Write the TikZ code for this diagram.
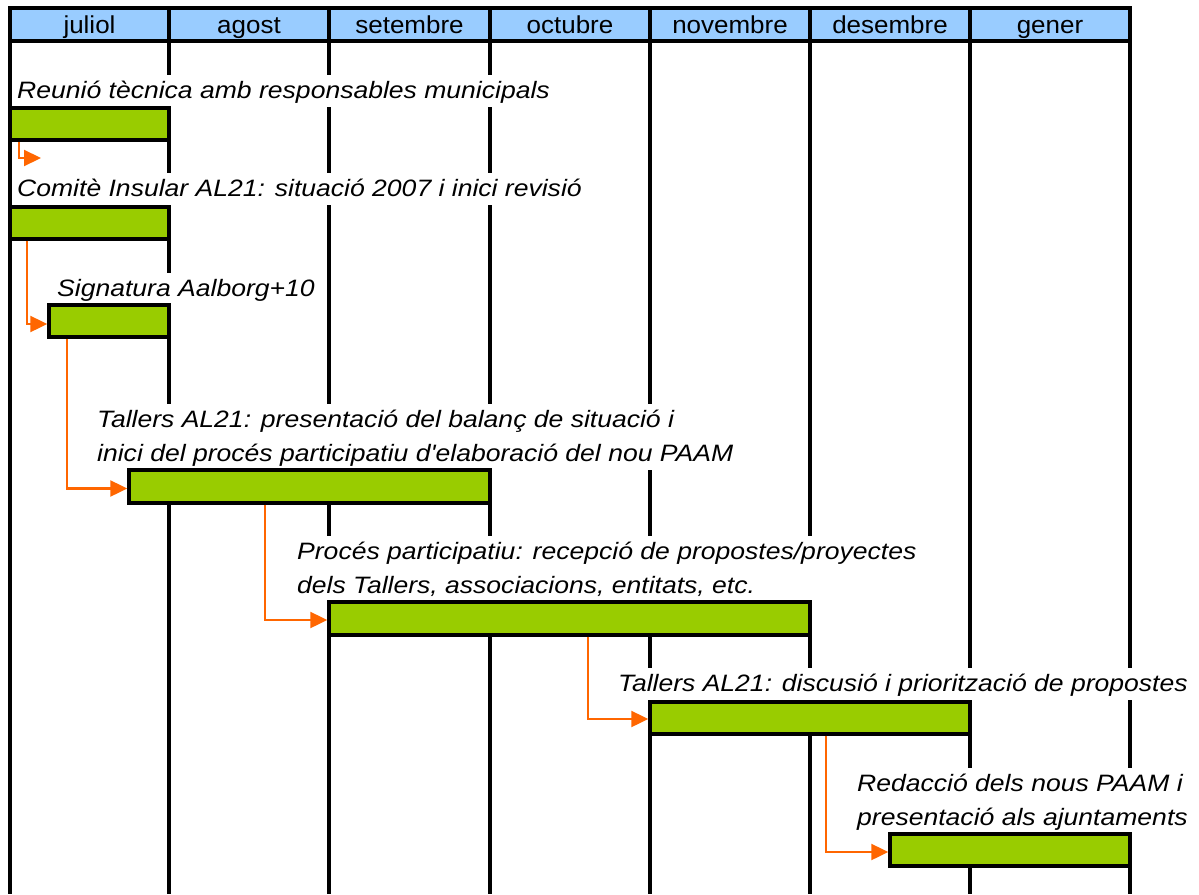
\documentclass[tikz,border=0pt]{standalone}
\usepackage{fontspec}
\setmainfont{Liberation Sans}
\newfontfamily\lblfont[FakeStretch=1.12]{Liberation Sans}
\newfontfamily\hdrfont[FakeStretch=1.06]{Liberation Sans}
\usetikzlibrary{arrows.meta}
\definecolor{hdrblue}{HTML}{99CCFF}
\definecolor{bargreen}{HTML}{99CC00}
\definecolor{arrorange}{HTML}{FF6600}
\newcommand\lbltop{\rule{0pt}{24pt}}
\newcommand\lblbot{\rule[-8pt]{0pt}{8pt}}
\begin{document}
\begin{tikzpicture}[x=1pt,y=-1pt,
  gridline/.style={line width=3.4pt},
  hdr/.style={anchor=base, inner sep=0pt, font=\hdrfont\fontsize{24.5}{28}\selectfont},
  lbl/.style={fill=white, inner xsep=3pt, inner ysep=0pt, anchor=south west, align=left,
              font=\lblfont\itshape\fontsize{23.7}{34}\selectfont},
  bar/.style={fill=bargreen, draw=black, line width=3.4pt, inner sep=0pt},
  link/.style={draw=arrorange, line width=2.2pt, -{Triangle[length=17pt,width=16pt]}},
]
\useasboundingbox (0,0) rectangle (1199,894);
% header background
\fill[hdrblue] (10,8) rectangle (1130,41);
% grid lines
\foreach \x in {10,169,329,490,650,810,970,1130}
  \draw[gridline] (\x,8) -- (\x,894);
\draw[gridline] (10,8) rectangle (1130,41);
% header texts
\node[hdr] (h1) at (89.5,33) {juliol};
\node[hdr] (h2) at (249,33) {agost};
\node[hdr] (h3) at (409.5,33) {setembre};
\node[hdr] (h4) at (570,33) {octubre};
\node[hdr] (h5) at (730,33) {novembre};
\node[hdr] (h6) at (890,33) {desembre};
\node[hdr] (h7) at (1050,33) {gener};
% labels
\node[lbl] (l1) at (14,107) {\lbltop\lblbot Reunió tècnica amb responsables municipals};
\node[lbl] (l2) at (14,205) {\lbltop\lblbot Comitè Insular AL21: situació 2007 i inici revisió};
\node[lbl] (l3) at (54,305) {\lbltop\lblbot Signatura Aalborg+10};
\node[lbl] (l4) at (94,470) {\lbltop Tallers AL21: presentació del balanç de situació i\\\lblbot inici del procés participatiu d'elaboració del nou PAAM};
\node[lbl] (l5) at (294,602) {\lbltop Procés participatiu: recepció de propostes/proyectes\\\lblbot dels Tallers, associacions, entitats, etc.};
\node[lbl] (l6) at (615,700) {\lbltop\lblbot Tallers AL21: discusió i priorització de propostes};
\node[lbl] (l7) at (854,834) {\lbltop Redacció dels nous PAAM i\\\lblbot presentació als ajuntaments};
% bars
\node[bar, minimum width=159pt, minimum height=32pt] (b1) at (89.5,124) {};
\node[bar, minimum width=159pt, minimum height=32pt] (b2) at (89.5,223) {};
\node[bar, minimum width=120pt, minimum height=32pt] (b3) at (109,321) {};
\node[bar, minimum width=361pt, minimum height=33pt] (b4) at (309.5,486.5) {};
\node[bar, minimum width=481pt, minimum height=33pt] (b5) at (569.5,618.5) {};
\node[bar, minimum width=320pt, minimum height=32pt] (b6) at (810,718) {};
\node[bar, minimum width=240pt, minimum height=32pt] (b7) at (1010,850) {};
% connectors
\coordinate (t1) at (41,158);
\draw[link] ([xshift=11pt]b1.south west) |- (t1);
\draw[link] ([xshift=19pt]b2.south west) |- ([yshift=-3pt]b3.west);
\draw[link] ([xshift=20pt]b3.south west) |- ([yshift=-2pt]b4.west);
\draw[link] ([xshift=138pt]b4.south west) |- ([yshift=-1.5pt]b5.west);
\draw[link] ([xshift=261pt]b5.south west) |- ([yshift=-1pt]b6.west);
\draw[link] ([xshift=178pt]b6.south west) |- ([yshift=-2pt]b7.west);
\end{tikzpicture}
\end{document}
